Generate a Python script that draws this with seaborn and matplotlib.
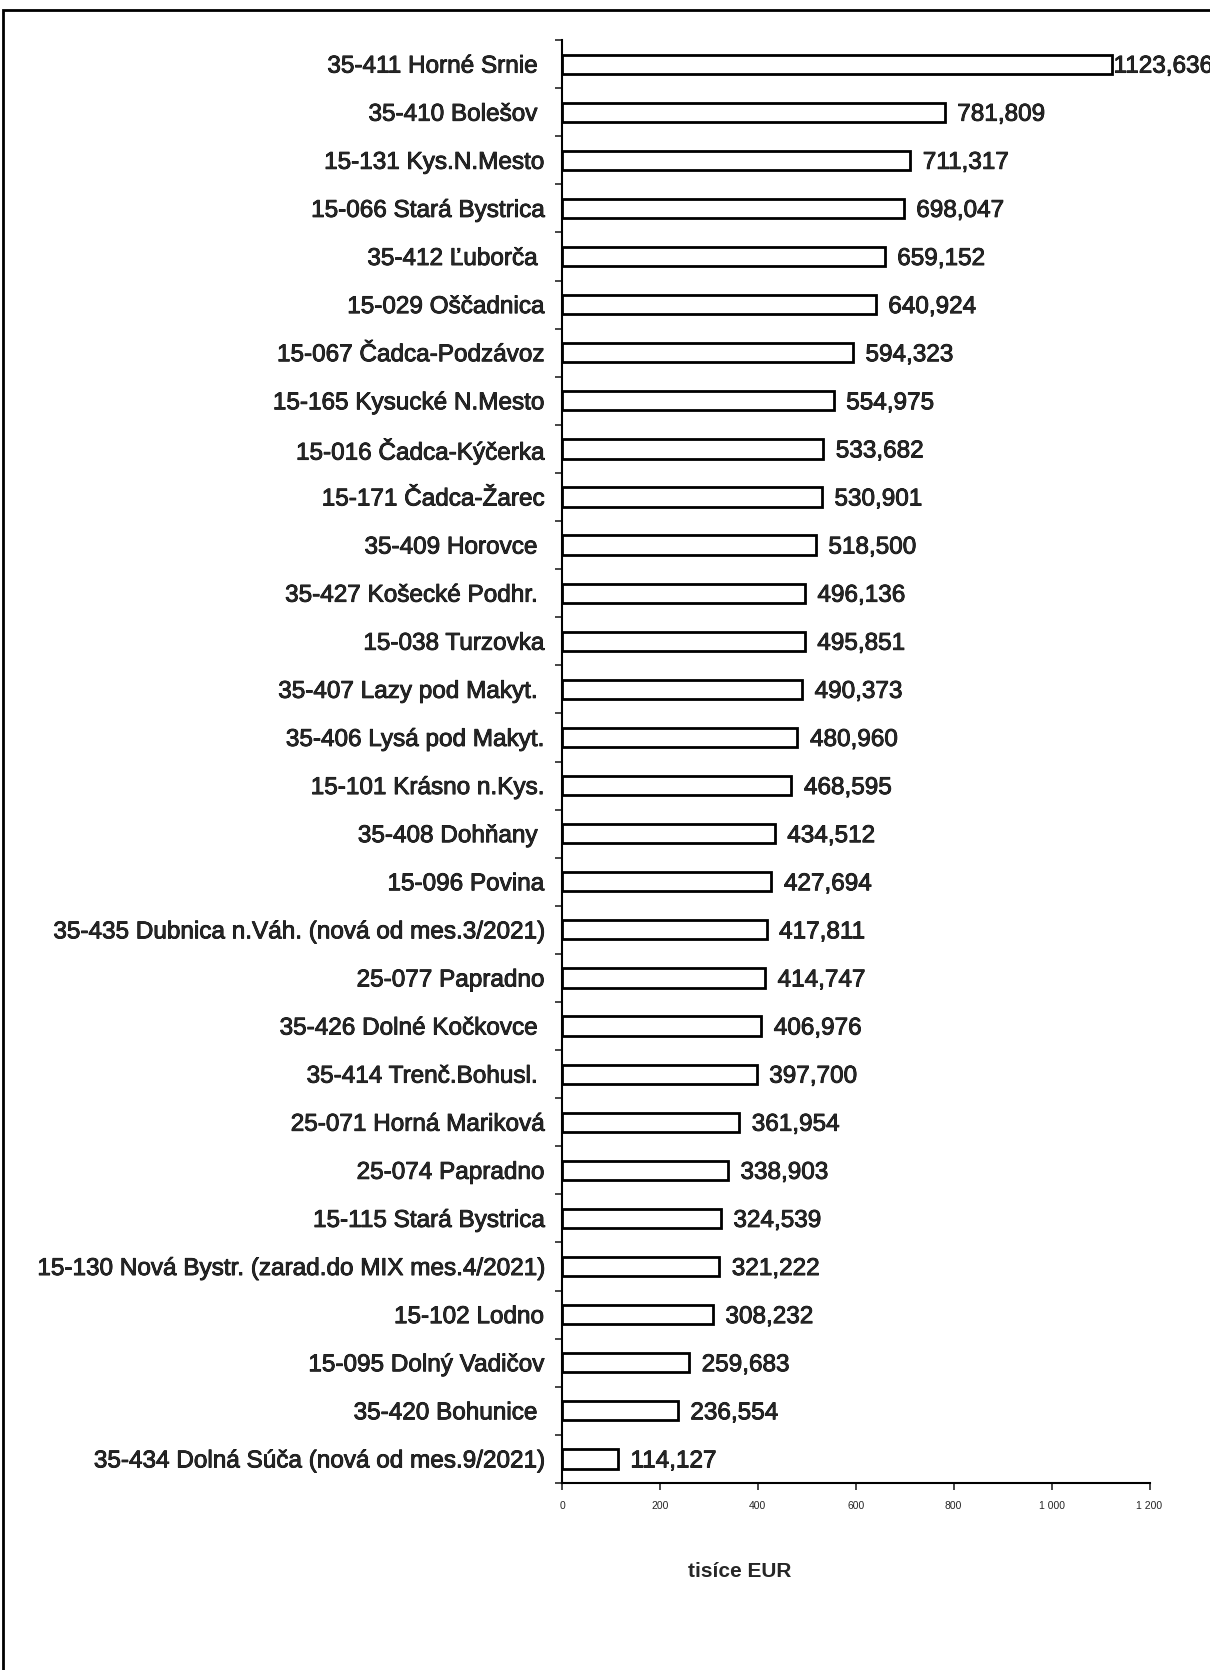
import matplotlib
matplotlib.use("Agg")
import matplotlib.pyplot as plt
import matplotlib.patheffects as pe
import seaborn as sns
import pandas as pd
from matplotlib.patches import Rectangle
from matplotlib.ticker import FixedLocator

sns.set_style("white")
plt.rcParams["font.family"] = ["Liberation Sans", "DejaVu Sans"]

# Dáta odčítané z grafu (tisíce EUR)
stanice = [
    "35-411 Horné Srnie ",
    "35-410 Bolešov ",
    "15-131 Kys.N.Mesto",
    "15-066 Stará Bystrica",
    "35-412 Ľuborča ",
    "15-029 Oščadnica",
    "15-067 Čadca-Podzávoz",
    "15-165 Kysucké N.Mesto",
    "15-016 Čadca-Kýčerka",
    "15-171 Čadca-Žarec",
    "35-409 Horovce ",
    "35-427 Košecké Podhr. ",
    "15-038 Turzovka",
    "35-407 Lazy pod Makyt. ",
    "35-406 Lysá pod Makyt.",
    "15-101 Krásno n.Kys.",
    "35-408 Dohňany ",
    "15-096 Povina",
    "35-435 Dubnica n.Váh. (nová od mes.3/2021)",
    "25-077 Papradno",
    "35-426 Dolné Kočkovce ",
    "35-414 Trenč.Bohusl. ",
    "25-071 Horná Mariková",
    "25-074 Papradno",
    "15-115 Stará Bystrica",
    "15-130 Nová Bystr. (zarad.do MIX mes.4/2021)",
    "15-102 Lodno",
    "15-095 Dolný Vadičov",
    "35-420 Bohunice ",
    "35-434 Dolná Súča (nová od mes.9/2021)",
]
hodnoty = [
    1123.636, 781.809, 711.317, 698.047, 659.152, 640.924, 594.323, 554.975,
    533.682, 530.901, 518.500, 496.136, 495.851, 490.373, 480.960, 468.595,
    434.512, 427.694, 417.811, 414.747, 406.976, 397.700, 361.954, 338.903,
    324.539, 321.222, 308.232, 259.683, 236.554, 114.127,
]
x_ticky = [0, 200, 400, 600, 800, 1000, 1200]
x_popisy = ["0", "200", "400", "600", "800", "1 000", "1 200"]

df = pd.DataFrame({"Stanica": stanice, "Hodnota": hodnoty})

# mierne "tučný" vzhľad ako na skenovanom obrázku
hrubsie = [pe.withStroke(linewidth=0.6, foreground="black")]

fig = plt.figure(figsize=(12.1, 16.7), dpi=100)
ax = fig.add_axes([0.4645, 0.112, 0.4855, 0.864])

sns.barplot(data=df, x="Hodnota", y="Stanica", orient="h", color="white",
            edgecolor="black", linewidth=2, width=0.4, ax=ax)

ax.set_xlim(0, 1200)
ax.set_ylim(len(stanice) - 0.5, -0.5)
ax.set_xticks(x_ticky)
ax.set_xticklabels(x_popisy, fontsize=7.5)
ax.set_xlabel("")
ax.set_ylabel("")
ax.tick_params(axis="y", length=0, labelsize=17.5, pad=13)
for t in ax.get_yticklabels():
    t.set_path_effects(hrubsie)
    t.set_verticalalignment("center_baseline")
ax.yaxis.set_minor_locator(FixedLocator([i + 0.5 for i in range(-1, len(stanice))]))
ax.tick_params(axis="y", which="minor", length=5, width=1.2, direction="out", left=True)
ax.tick_params(axis="x", length=5, width=1.2, direction="out", bottom=True, pad=8)

for s in ["top", "right"]:
    ax.spines[s].set_visible(False)
for s in ["left", "bottom"]:
    ax.spines[s].set_color("black")
    ax.spines[s].set_linewidth(1.5)

# popisky hodnôt
for i, v in enumerate(hodnoty):
    txt = f"{v:.3f}".replace(".", ",")
    pad = 1 if v > 1100 else 9
    ax.annotate(txt, (v, i), xytext=(pad, 0), textcoords="offset points",
                va="center_baseline", ha="left", fontsize=17.5, path_effects=hrubsie)

fig.text(0.611, 0.059, "tisíce EUR", ha="center", va="center", fontsize=15,
         fontweight="bold")

# rám okolo obrázka
fig.patches.append(Rectangle((0.0025, -0.1), 1.2, 1.094, transform=fig.transFigure,
                             fill=False, edgecolor="black", linewidth=2))

fig.savefig("out.png", dpi=100, facecolor="white")
